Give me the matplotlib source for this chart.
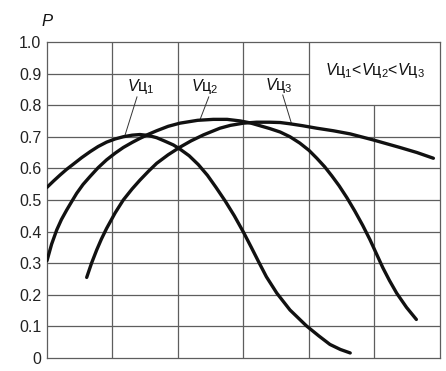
import matplotlib
matplotlib.use("Agg")
from matplotlib import pyplot as plt

plt.rcParams["font.family"] = ["Liberation Sans", "DejaVu Sans"]
plt.rcParams["mathtext.fontset"] = "custom"
plt.rcParams["mathtext.it"] = "Liberation Sans:italic"
plt.rcParams["mathtext.rm"] = "Liberation Sans"

# P for three values of Vц
x1 = [0, 0.1, 0.2, 0.3, 0.4, 0.53, 0.66, 0.78, 0.91, 1.04, 1.165, 1.3, 1.42,
      1.55, 1.675, 1.8, 1.93, 2.03, 2.17, 2.31, 2.45, 2.58, 2.72, 2.86, 3.0,
      3.12, 3.23, 3.35, 3.51, 3.71, 3.96, 4.15, 4.32, 4.48, 4.63]
p1 = [0.540, 0.560, 0.579, 0.597, 0.613, 0.634, 0.653, 0.669, 0.683, 0.693,
      0.700, 0.705, 0.707, 0.704, 0.697, 0.686, 0.674, 0.661, 0.640, 0.612,
      0.578, 0.540, 0.497, 0.450, 0.398, 0.350, 0.305, 0.257, 0.205, 0.152,
      0.102, 0.070, 0.043, 0.027, 0.016]

x2 = [0, 0.07, 0.148, 0.22, 0.30, 0.38, 0.453, 0.55, 0.656, 0.78, 0.91, 1.04,
      1.165, 1.3, 1.42, 1.55, 1.675, 1.85, 2.03, 2.3, 2.54, 2.75, 2.95, 3.1,
      3.25, 3.4, 3.56, 3.71, 3.86, 4.0, 4.12, 4.24, 4.35, 4.46, 4.58, 4.70,
      4.82, 4.93, 5.03, 5.13, 5.23, 5.34, 5.49, 5.64]
p2 = [0.308, 0.360, 0.405, 0.438, 0.468, 0.496, 0.521, 0.549, 0.574, 0.602,
      0.627, 0.648, 0.666, 0.682, 0.695, 0.708, 0.719, 0.733, 0.743, 0.752,
      0.755, 0.755, 0.750, 0.744, 0.735, 0.726, 0.715, 0.700, 0.680, 0.657,
      0.632, 0.605, 0.576, 0.545, 0.507, 0.465, 0.420, 0.375, 0.330, 0.285,
      0.245, 0.205, 0.160, 0.122]

x3 = [0.606, 0.68, 0.759, 0.83, 0.91, 1.04, 1.165, 1.3, 1.42, 1.55, 1.675,
      1.85, 2.03, 2.2, 2.39, 2.64, 2.8, 3.0, 3.2, 3.40, 3.56, 3.71, 3.9, 4.12,
      4.37, 4.63, 4.98, 5.39, 5.65, 5.90]
p3 = [0.255, 0.300, 0.342, 0.376, 0.410, 0.459, 0.500, 0.535, 0.563, 0.591,
      0.616, 0.643, 0.667, 0.687, 0.706, 0.727, 0.736, 0.743, 0.746, 0.746,
      0.745, 0.741, 0.735, 0.727, 0.719, 0.709, 0.690, 0.666, 0.650, 0.632]

y_ticks = [0, 0.1, 0.2, 0.3, 0.4, 0.5, 0.6, 0.7, 0.8, 0.9, 1.0]
y_labels = ["0", "0.1", "0.2", "0.3", "0.4", "0.5", "0.6", "0.7", "0.8", "0.9", "1.0"]

grid_c = "#5e5e5e"

fig = plt.figure(figsize=(4.46, 3.71), dpi=100)
ax = fig.add_axes([0.1054, 0.035, 0.881, 0.852])
ax.set_xlim(0, 6)
ax.set_ylim(0, 1)

# grid, leaving an empty box in the top right corner for the note
for y in y_ticks[1:-1]:
    ax.hlines(y, 0, 4 if y == 0.9 else 6, color=grid_c, lw=0.9, zorder=1)
for x in [1, 2, 3, 4, 5]:
    ax.vlines(x, 0, 0.8 if x == 5 else 1, color=grid_c, lw=0.9, zorder=1)
for s in ax.spines.values():
    s.set_color(grid_c)
    s.set_linewidth(0.9)

for xs, ps in [(x1, p1), (x2, p2), (x3, p3)]:
    ax.plot(xs, ps, color="#111111", lw=2.4, solid_capstyle="round",
            solid_joinstyle="round", zorder=3)

ax.set_xticks([])
ax.set_yticks(y_ticks)
ax.set_yticklabels(y_labels, fontsize=11.5, color="#222222")
ax.tick_params(axis="y", length=0, pad=4)

labels = [r"$V$ц$_\mathit{1}$", r"$V$ц$_\mathit{2}$", r"$V$ц$_\mathit{3}$"]
label_pos = [(1.435, 0.858), (2.41, 0.858), (3.54, 0.861)]
leaders = [((1.374, 0.826), (1.19, 0.704)),
           ((2.47, 0.826), (2.34, 0.756)),
           ((3.60, 0.832), (3.73, 0.744))]
for lab, (tx, ty), (a, b) in zip(labels, label_pos, leaders):
    ax.text(tx, ty, lab, fontsize=11.5, ha="center", va="center", color="#111111")
    ax.plot([a[0], b[0]], [a[1], b[1]], color="#333333", lw=0.7, zorder=2)

ax.text(5.0, 0.911, r"$V$ц$_\mathit{1}$<$V$ц$_\mathit{2}$<$V$ц$_\mathit{3}$",
        fontsize=11.5, ha="center", va="center", color="#111111")
ax.text(0, 1.066, "P", fontsize=12, style="italic", ha="center", va="center",
        color="#111111", clip_on=False)

fig.savefig("out.png", dpi=100, facecolor="white")
